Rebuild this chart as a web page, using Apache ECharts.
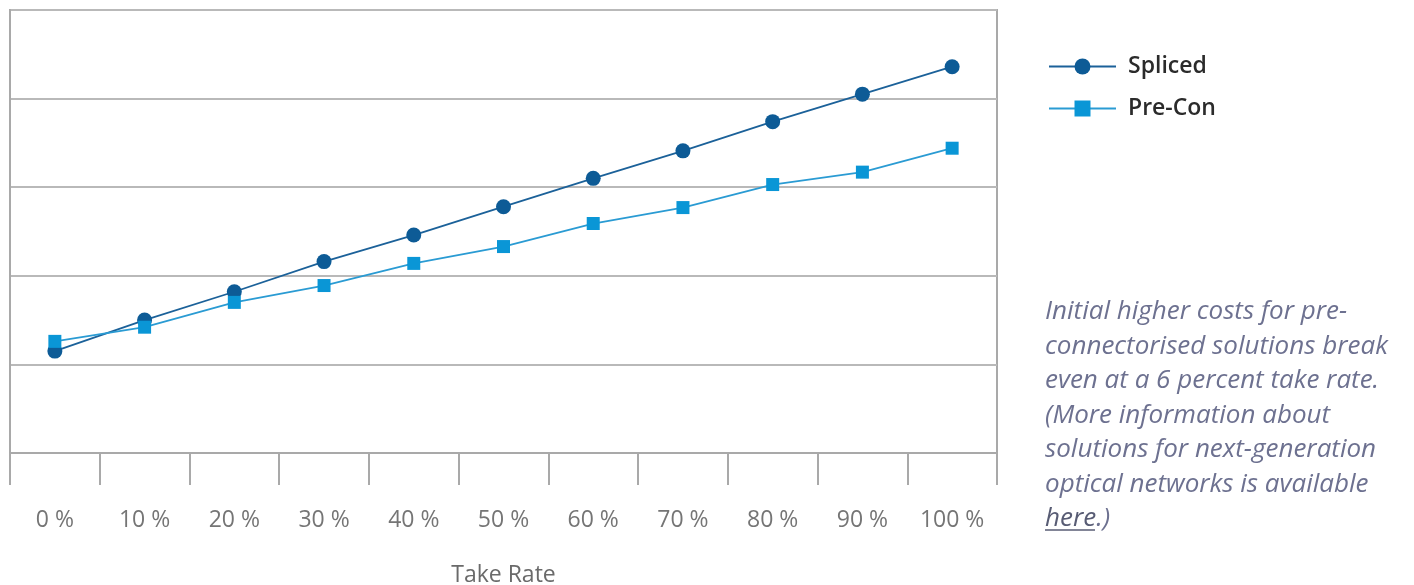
<!DOCTYPE html>
<html>
<head>
<meta charset="utf-8">
<script src="https://cdn.jsdelivr.net/npm/echarts@6/dist/echarts.min.js"></script>
<style>
  html, body { margin: 0; padding: 0; background: #ffffff; }
  #chart { width: 1414px; height: 585px; }
</style>
</head>
<body>
<div id="chart"></div>
<script>
// Take-rate categories along the x axis
const takeRates = ['0 %', '10 %', '20 %', '30 %', '40 %', '50 %', '60 %', '70 %', '80 %', '90 %', '100 %'];
// Relative cost per installation approach (unitless, grid steps of 1)
const splicedCost = [1.15, 1.50, 1.82, 2.16, 2.46, 2.78, 3.10, 3.41, 3.74, 4.05, 4.36];
const preConCost  = [1.26, 1.42, 1.70, 1.89, 2.14, 2.33, 2.59, 2.77, 3.03, 3.17, 3.44];
// Side note text, one entry per line
const noteLines = [
  'Initial higher costs for pre-',
  'connectorised solutions break',
  'even at a 6 percent take rate.',
  '(More information about',
  'solutions for next-generation',
  'optical networks is available'
];
const noteLink = 'here';
const noteTail = '.)';

const chart = echarts.init(document.getElementById('chart'));

const axisGray = '#a9a9a9';
const noteColor = '#6d7190';
const linkColor = '#585c74';
const noteFont = 'italic 26px "Open Sans", "Noto Sans", sans-serif';
const noteTop = 299;
const noteStep = 34.5;

const graphics = noteLines.map((t, i) => ({
  type: 'text',
  left: 1045,
  top: noteTop + i * noteStep,
  style: { text: t, font: noteFont, fill: noteColor }
}));
const lastTop = noteTop + noteLines.length * noteStep;
graphics.push({
  type: 'text',
  left: 1045,
  top: lastTop,
  style: {
    text: '{u|' + noteLink + '}{t|' + noteTail + '}',
    font: noteFont,
    fill: noteColor,
    rich: {
      u: { font: noteFont, fill: linkColor },
      t: { font: noteFont, fill: noteColor }
    }
  }
});
// underline under the link word
graphics.push({
  type: 'line',
  shape: { x1: 1045, y1: lastTop + 24, x2: 1095, y2: lastTop + 24 },
  style: { stroke: linkColor, lineWidth: 1.5 }
});

chart.setOption({
  animation: false,
  backgroundColor: '#ffffff',
  grid: {
    left: 10, right: 417, top: 10, bottom: 132,
    outerBoundsMode: 'none',
    containLabel: false,
    show: true, borderColor: axisGray, borderWidth: 2
  },
  legend: {
    orient: 'vertical',
    left: 1043,
    top: 50,
    itemWidth: 67,
    itemHeight: 20,
    itemGap: 19,
    textStyle: {
      fontFamily: '"Open Sans", "Noto Sans", sans-serif',
      fontSize: 23,
      fontWeight: 600,
      color: '#2b2b2b',
      padding: [0, 0, 0, 7]
    },
    data: ['Spliced', 'Pre-Con']
  },
  xAxis: {
    type: 'category',
    data: takeRates,
    boundaryGap: true,
    name: 'Take Rate',
    nameLocation: 'middle',
    nameGap: 111,
    nameTextStyle: {
      fontFamily: '"Open Sans", "Noto Sans", sans-serif',
      fontSize: 23,
      color: '#6a6a6a'
    },
    axisLine: { show: true, lineStyle: { color: axisGray, width: 2 } },
    axisTick: { show: true, interval: 0, length: 32, lineStyle: { color: axisGray, width: 2 } },
    axisLabel: {
      interval: 0,
      margin: 56,
      fontFamily: '"Open Sans", "Noto Sans", sans-serif',
      fontSize: 23,
      color: '#757575'
    }
  },
  yAxis: {
    type: 'value',
    min: 0,
    max: 5,
    interval: 1,
    axisLine: { show: true, lineStyle: { color: axisGray, width: 2 } },
    axisTick: { show: false },
    axisLabel: { show: false },
    splitLine: { show: true, lineStyle: { color: '#b9b9b9', width: 2 } }
  },
  series: [
    {
      name: 'Spliced',
      type: 'line',
      data: splicedCost,
      symbol: 'circle',
      symbolSize: 15,
      itemStyle: { color: '#0d5b96' },
      lineStyle: { color: '#1b6199', width: 1.8 },
      z: 3
    },
    {
      name: 'Pre-Con',
      type: 'line',
      data: preConCost,
      symbol: 'rect',
      symbolSize: 13,
      itemStyle: { color: '#0a96d6' },
      lineStyle: { color: '#2a9bd3', width: 1.8 },
      z: 4
    }
  ],
  graphic: graphics
});
</script>
</body>
</html>
